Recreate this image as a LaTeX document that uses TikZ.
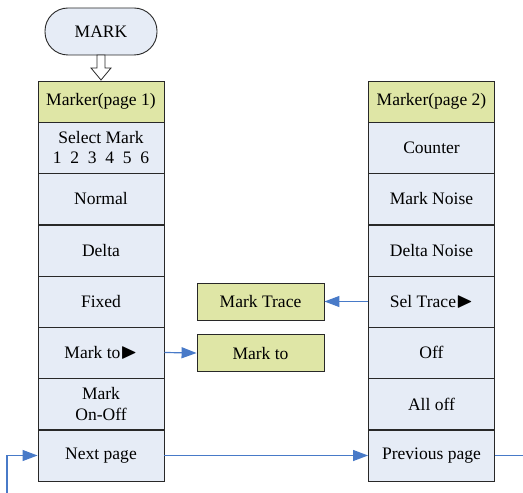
\documentclass[tikz,border=0pt]{standalone}
\usepackage{amssymb}
\usepackage{fontspec}
\setmainfont{Liberation Serif}
\usetikzlibrary{arrows.meta}
\definecolor{boxblue}{RGB}{230,236,246}
\definecolor{headgreen}{RGB}{223,230,166}
\definecolor{linkblue}{RGB}{72,122,200}
\definecolor{edge}{RGB}{40,40,40}
\newcommand{\tri}{\raisebox{0.3bp}{\scalebox{1.25}{$\blacktriangleright$}}}
\tikzset{
  txt/.style={font=\fontsize{17.6}{20}\selectfont},
  cell/.style={draw=edge, line width=0.9bp, fill=boxblue, minimum width=126bp, minimum height=51bp, inner sep=0pt, align=center, txt},
  head/.style={cell, fill=headgreen, minimum height=41bp},
  side/.style={draw=edge, line width=0.9bp, fill=headgreen, minimum width=127bp, minimum height=37bp, inner sep=0pt, txt},
  link/.style={draw=linkblue, line width=1.2bp, -{Triangle[length=15bp,width=11bp]}},
  plain/.style={draw=linkblue, line width=1.2bp}
}
\begin{document}
\begin{tikzpicture}[x=1bp,y=-1bp]
\useasboundingbox (0,0) rectangle (523,493);
% terminal
\node[draw=edge, line width=0.9bp, fill=boxblue, rounded corners=23bp, minimum width=112bp, minimum height=47bp, inner sep=0pt, txt] (mark) at (101,31.5) {MARK};
% hollow arrow
\draw[draw=edge, fill=white, line width=0.8bp] (97,55) -- (105,55) -- (105,68) -- (111,68) -- (101,80) -- (91,68) -- (97,68) -- cycle;
% left column
\node[head] (h1) at (101,101.5) {Marker(page 1)};
\node[cell] (sel) at (101,147.5) {Select Mark\\[0.5bp]1\ \ 2\ \ 3\ \ 4\ \ 5\ \ 6};
\node[cell] (normal) at (101,199) {Normal};
\node[cell] (delta) at (101,250.5) {Delta};
\node[cell] (fixed) at (101,301.5) {Fixed};
\node[cell] (markto) at (101,352.5) {Mark to\tri};
\node[cell] (onoff) at (101,404) {Mark\\[0.5bp]On-Off};
\node[cell] (next) at (101,455.5) {Next page};
% right column
\node[head] (h2) at (431.5,101.5) {Marker(page 2)};
\node[cell] (counter) at (431.5,147.5) {Counter};
\node[cell] (mnoise) at (431.5,199) {Mark Noise};
\node[cell] (dnoise) at (431.5,250.5) {Delta Noise};
\node[cell] (seltr) at (431.5,301.5) {Sel Trace\tri};
\node[cell] (off) at (431.5,352.5) {Off};
\node[cell] (alloff) at (431.5,404) {All off};
\node[cell] (prev) at (431.5,455.5) {Previous page};
% side boxes
\node[side] (mtrace) at (260.5,301.5) {Mark Trace};
\node[side] (mto2) at (260.5,353) {Mark to};
% connectors
\draw[link] (seltr.west) -- (mtrace.east);
\draw[link] (markto.east) -- (mto2.west);
\draw[link] (next.east) -- (prev.west);
\coordinate (rend) at (523,455.5);
\draw[plain] (prev.east) -- (rend);
\coordinate (lstart) at (7,493);
\draw[link] (lstart) |- (next.west);
\end{tikzpicture}
\end{document}
